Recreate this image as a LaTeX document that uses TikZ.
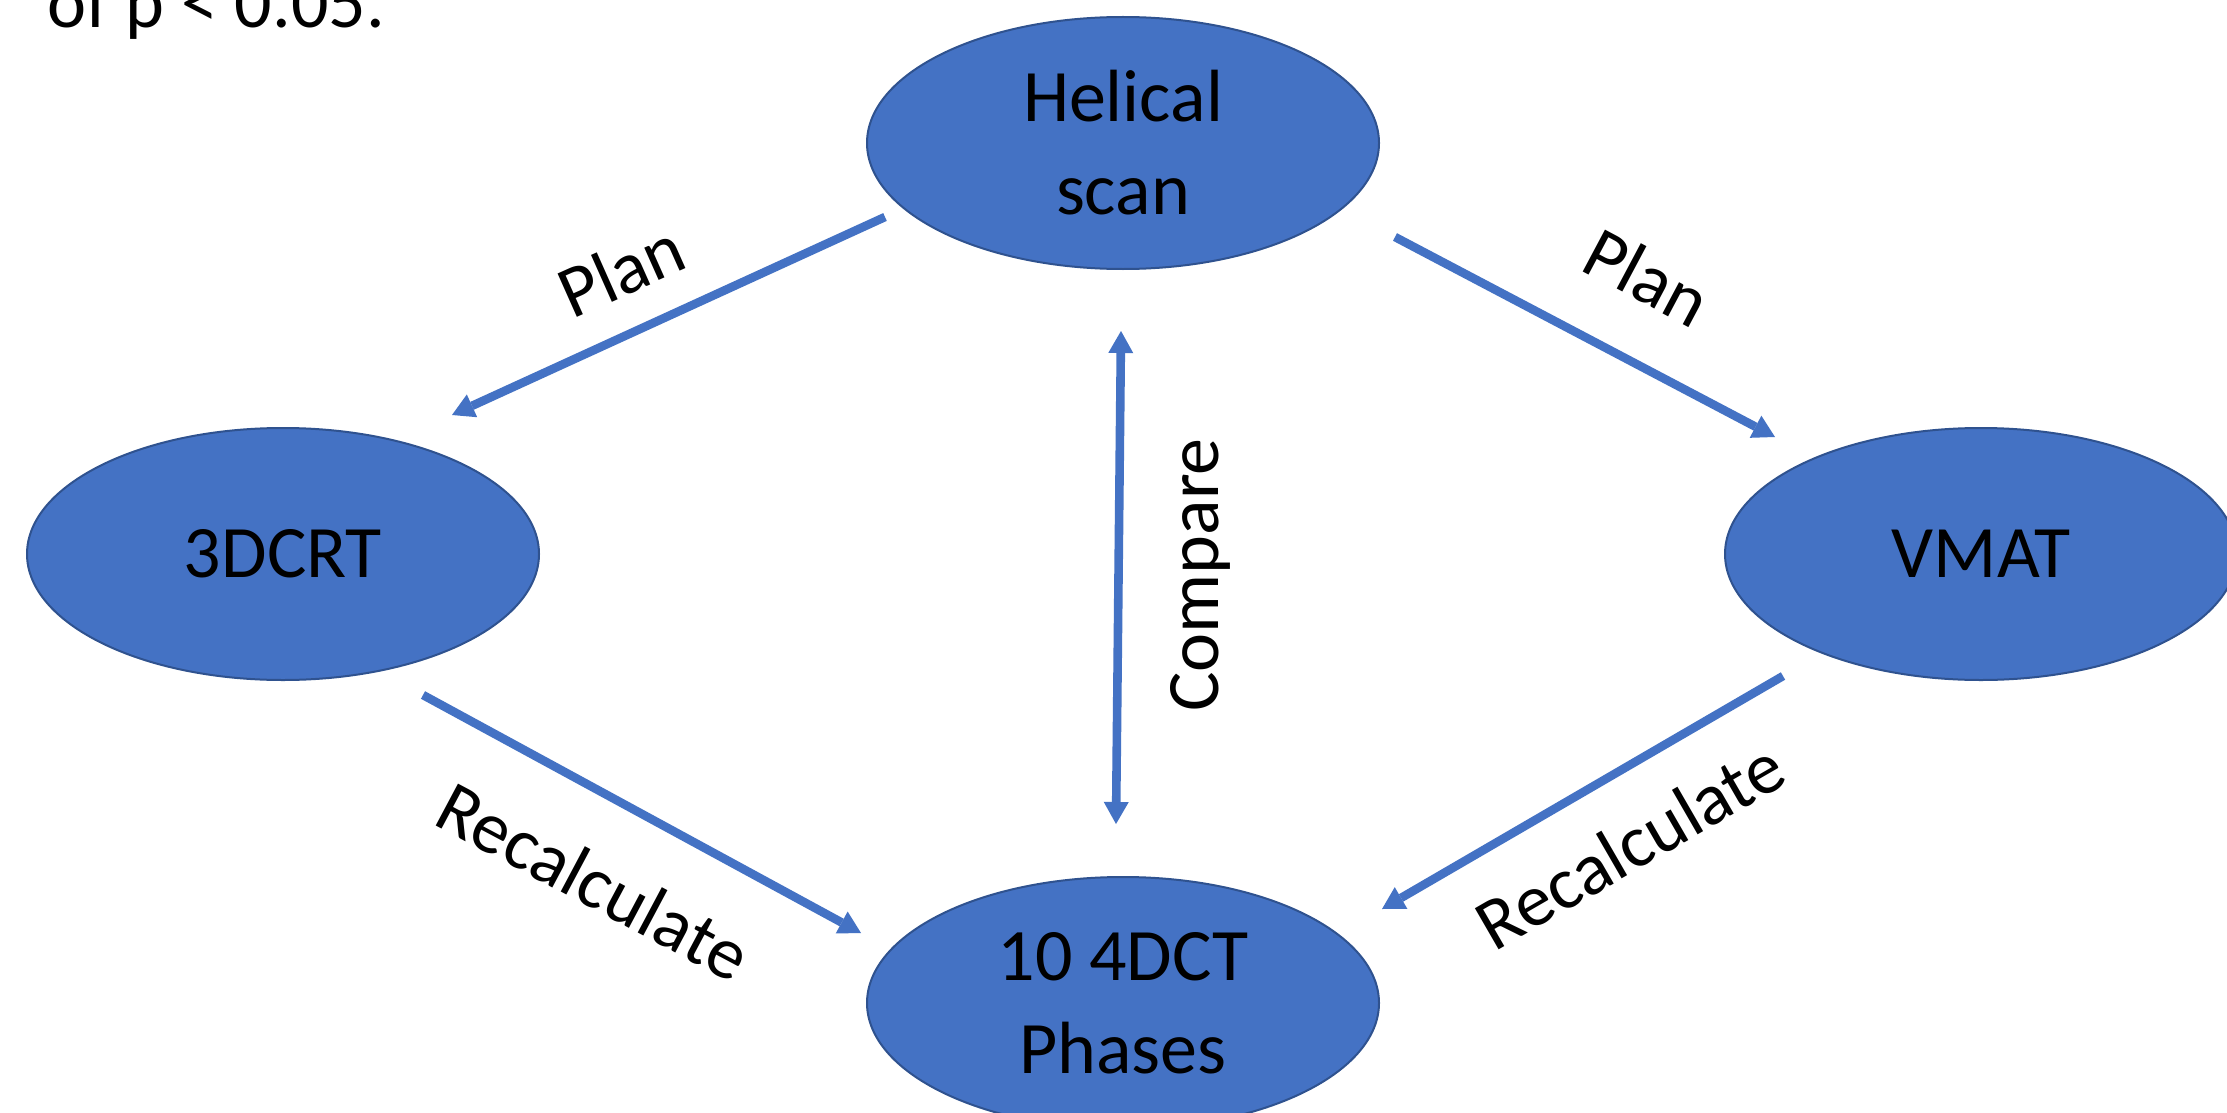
\documentclass[tikz,border=0pt]{standalone}
\usepackage{fontspec}
\setmainfont{Carlito}
\usetikzlibrary{shapes.geometric,arrows.meta}
\definecolor{obl}{HTML}{4472C4}
\definecolor{obd}{HTML}{2F528F}
\begin{document}
\begin{tikzpicture}[x=0.5pt,y=-0.5pt,
  tipA/.tip={Triangle[length=11pt,width=12.5pt,line width=0pt]},
  oval/.style={ellipse,draw=obd,line width=1pt,fill=obl,minimum width=256pt,minimum height=126pt,inner sep=0pt,align=center,font=\fontsize{37}{46.5}\selectfont},
  conn/.style={draw=obl,line width=4.3pt,-tipA},
  dconn/.style={draw=obl,line width=4.3pt,tipA-tipA},
  lbl/.style={font=\fontsize{37}{46.5}\selectfont,inner sep=0pt}]
\clip (0,0) rectangle (2227,1113);
\fill[white] (0,0) rectangle (2227,1113);
\node[lbl,anchor=base west] (note) at (47,28) {of p < 0.05.};
\node[oval] (hel) at (1123,143) {Helical\\scan};
\node[oval] (crt) at (283,554) {3DCRT};
\node[oval] (vmat) at (1981,554) {VMAT};
\node[oval] (ct) at (1123,1003) {10 4DCT\\Phases};
\coordinate (a1) at (885,217); \coordinate (b1) at (452,415);
\coordinate (a2) at (1395,237); \coordinate (b2) at (1775,437);
\coordinate (a3) at (1121,331); \coordinate (b3) at (1116,824);
\coordinate (a4) at (423,695); \coordinate (b4) at (861,933);
\coordinate (a5) at (1783,676); \coordinate (b5) at (1382,909);
\draw[conn] (a1) -- (b1);
\draw[conn] (a2) -- (b2);
\draw[dconn] (a3) -- (b3);
\draw[conn] (a4) -- (b4);
\draw[conn] (a5) -- (b5);
\node[lbl,rotate=24] (l1) at (621,270) {Plan};
\node[lbl,rotate=-28] (l2) at (1648,277) {Plan};
\node[lbl,rotate=90] (l3) at (1200,575) {Compare};
\node[lbl,rotate=-28] (l4) at (594,881) {Recalculate};
\node[lbl,rotate=30] (l5) at (1630,845) {Recalculate};
\end{tikzpicture}
\end{document}
